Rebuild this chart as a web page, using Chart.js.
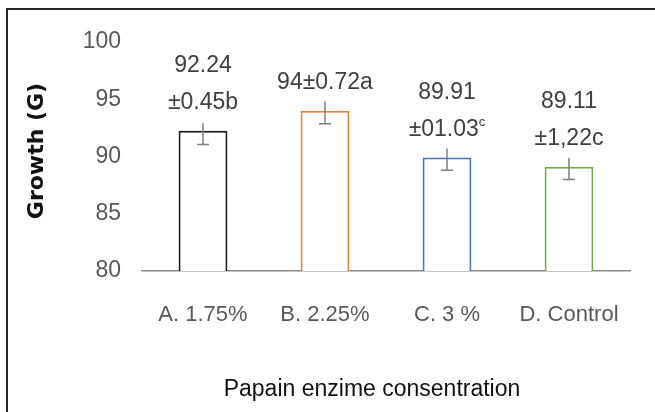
<!DOCTYPE html>
<html>
<head>
<meta charset="utf-8">
<script src="https://cdn.jsdelivr.net/npm/chart.js@4.4.0/dist/chart.umd.min.js"></script>
<style>
  html, body { margin: 0; padding: 0; background: #fff; }
  #wrap { width: 655px; height: 412px; }
</style>
</head>
<body>
<div id="wrap"><canvas id="growth" width="655" height="412"></canvas></div>
<script>
// values
const categories = ['A. 1.75%', 'B. 2.25%', 'C. 3 %', 'D. Control'];
const growth = [92.24, 94, 89.91, 89.11];
const errHigh = [92.9, 94.8, 90.7, 89.9];
const errLow = [91.05, 92.85, 88.8, 88.0];
// '^' marks a superscript tail
const barLabels = [['92.24', '±0.45b'], ['94±0.72a'], ['89.91', '±01.03^c'], ['89.11', '±1,22c']];
const barColors = ['#1a1a1a', '#ed7d31', '#4472c4', '#70ad47'];
const yMin = 80, yMax = 100, yStep = 5;

const FONT = '"Liberation Sans", Arial, sans-serif';

const extras = {
  id: 'extras',
  afterDatasetsDraw(chart) {
    const ctx = chart.ctx;
    const meta = chart.getDatasetMeta(0);
    const ys = chart.scales.y;
    ctx.save();
    // error bars (cap only on the low end, like the source)
    ctx.strokeStyle = '#7f7f7f';
    ctx.lineWidth = 1.5;
    meta.data.forEach((bar, i) => {
      const hi = ys.getPixelForValue(errHigh[i]);
      const lo = ys.getPixelForValue(errLow[i]);
      ctx.beginPath();
      ctx.moveTo(bar.x, hi);
      ctx.lineTo(bar.x, lo);
      ctx.moveTo(bar.x - 6, lo);
      ctx.lineTo(bar.x + 6, lo);
      ctx.stroke();
    });
    // value labels
    ctx.fillStyle = '#404040';
    ctx.textBaseline = 'middle';
    ctx.textAlign = 'left';
    meta.data.forEach((bar, i) => {
      const lines = barLabels[i];
      lines.forEach((line, k) => {
        const y = bar.y - 28 - (lines.length - 1 - k) * 37;
        const parts = line.split('^');
        ctx.font = '23px ' + FONT;
        const w1 = ctx.measureText(parts[0]).width;
        let w2 = 0;
        if (parts[1]) {
          ctx.font = '13px ' + FONT;
          w2 = ctx.measureText(parts[1]).width;
        }
        const x0 = bar.x - (w1 + w2) / 2;
        ctx.font = '23px ' + FONT;
        ctx.fillText(parts[0], x0, y);
        if (parts[1]) {
          ctx.font = '13px ' + FONT;
          ctx.fillText(parts[1], x0 + w1, y - 7);
        }
      });
    });
    ctx.restore();
  },
  afterDraw(chart) {
    const ctx = chart.ctx;
    ctx.save();
    // axis titles
    ctx.fillStyle = '#111';
    ctx.textAlign = 'center';
    ctx.textBaseline = 'middle';
    ctx.font = '23px ' + FONT;
    ctx.fillText('Papain enzime consentration', 372, 390);
    ctx.translate(37, 151);
    ctx.rotate(-Math.PI / 2);
    ctx.font = 'bold 22px "DejaVu Sans", Verdana, sans-serif';
    ctx.fillText('Growth (G)', 0, 0);
    ctx.restore();
    // frame around the figure
    ctx.save();
    ctx.strokeStyle = '#262626';
    ctx.lineWidth = 2;
    ctx.strokeRect(7, 9, 700, 500);
    ctx.restore();
  }
};

new Chart(document.getElementById('growth'), {
  type: 'bar',
  data: {
    labels: categories,
    datasets: [{
      data: growth,
      backgroundColor: '#ffffff',
      borderColor: barColors,
      borderWidth: 2,
      barPercentage: 0.4,
      categoryPercentage: 1
    }]
  },
  options: {
    responsive: false,
    devicePixelRatio: 1,
    animation: false,
    layout: { padding: { top: 42, right: 25, bottom: 0, left: 0 } },
    plugins: {
      legend: { display: false },
      tooltip: { enabled: false }
    },
    scales: {
      x: {
        grid: { display: false },
        border: { display: true, color: '#8c8c8c', width: 1.5 },
        ticks: { font: { family: FONT, size: 22 }, color: '#595959', padding: 23 },
        afterFit: s => { s.height = 141; }
      },
      y: {
        min: yMin,
        max: yMax,
        grid: { display: false },
        border: { display: false },
        ticks: { stepSize: yStep, font: { family: FONT, size: 23 }, color: '#595959', padding: 13 },
        afterFit: s => { s.width = 142; }
      }
    }
  },
  plugins: [extras]
});
</script>
</body>
</html>
